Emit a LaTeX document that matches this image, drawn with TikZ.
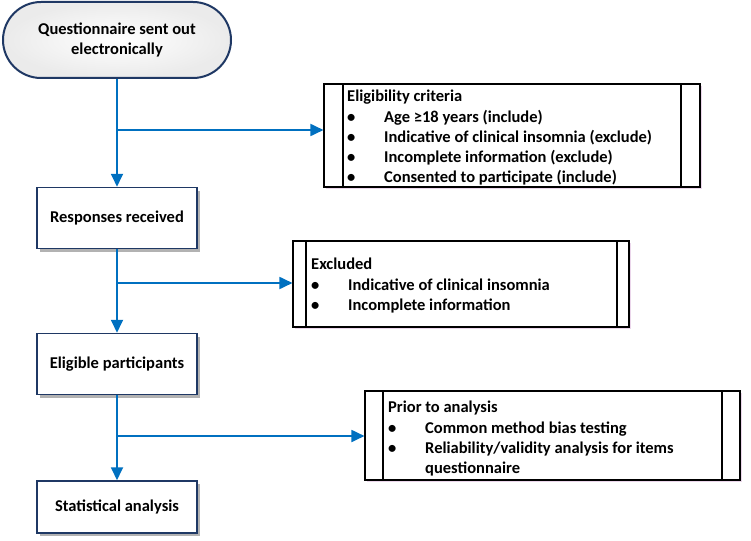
\documentclass[tikz,border=0pt]{standalone}
\usepackage{fontspec}
\setmainfont{Carlito}
\usetikzlibrary{arrows.meta,shadows,shapes.misc}
\definecolor{navy}{HTML}{1F3864}
\definecolor{arrowblue}{HTML}{0070C0}
\tikzset{
  flowline/.style={draw=arrowblue, line width=1.8pt},
  flowarrow/.style={flowline, -{Triangle[length=13pt,width=12pt]}},
  mainbox/.style={draw=navy, line width=1.5pt, fill=white, minimum width=160pt, minimum height=61pt,
    font=\fontsize{16.5}{20}\selectfont\bfseries, align=center, inner sep=0pt,
    drop shadow={shadow xshift=3pt, shadow yshift=-3pt, fill=black, opacity=0.3}},
  sidebox/.style={draw=black, line width=1.1pt, fill=white, inner sep=0pt,
    drop shadow={shadow xshift=2pt, shadow yshift=-2pt, fill=violet!40, opacity=0.4}},
  sidetext/.style={anchor=north west, inner sep=0pt, align=left, font=\fontsize{16.5}{20.3}\selectfont\bfseries},
}
\newcommand{\bul}{\makebox[37pt][l]{\textbullet}}
\begin{document}
\begin{tikzpicture}[x=1pt,y=-1pt]
\useasboundingbox (0,0) rectangle (751,540);
% start terminal
\node[draw=navy, line width=2pt, rounded rectangle, minimum width=228pt, minimum height=76pt,
  inner color=white, outer color=gray!16, align=center, inner sep=0pt,
  font=\fontsize{16.5}{19.5}\selectfont\bfseries] (q) at (117,40) {Questionnaire sent out\\electronically};
% main boxes
\node[mainbox] (r) at (117,218) {Responses received};
\node[mainbox] (e) at (117,364) {Eligible participants};
\node[mainbox, minimum height=52pt] (s) at (117,507) {Statistical analysis};
% side boxes
\node[sidebox, minimum width=376pt, minimum height=103pt] (c) at (512,135.5) {};
\draw[line width=1.1pt] (343,84) -- (343,187) (681,84) -- (681,187);
\node[sidetext] (ct) at (347,90) {Eligibility criteria\\
\bul Age ≥18 years (include)\\
\bul Indicative of clinical insomnia (exclude)\\
\bul Incomplete information (exclude)\\
\bul Consented to participate (include)};
\node[sidebox, minimum width=336pt, minimum height=86pt] (x) at (461,284) {};
\draw[line width=1.1pt] (306,241) -- (306,327) (617,241) -- (617,327);
\node[sidetext] (xt) at (311,258) {Excluded\\
\bul Indicative of clinical insomnia\\
\bul Incomplete information};
\node[sidebox, minimum width=375pt, minimum height=89pt] (p) at (552.5,435.5) {};
\draw[line width=1.1pt] (383,391) -- (383,480) (722,391) -- (722,480);
\node[sidetext] (pt) at (388,401) {Prior to analysis\\
\bul Common method bias testing\\
\bul Reliability/validity analysis for items\\
\makebox[37pt][l]{}questionnaire};
% connectors
\draw[flowarrow] (q.south) -- (r.north);
\draw[flowarrow] (r.south) -- (e.north);
\draw[flowarrow] (e.south) -- (s.north);
\coordinate (b1) at (117,130);
\coordinate (b2) at (117,283);
\coordinate (b3) at (117,436);
\draw[flowarrow] (b1) -- (b1 -| c.west);
\draw[flowarrow] (b2) -- (b2 -| x.west);
\draw[flowarrow] (b3) -- (b3 -| p.west);
\end{tikzpicture}
\end{document}
